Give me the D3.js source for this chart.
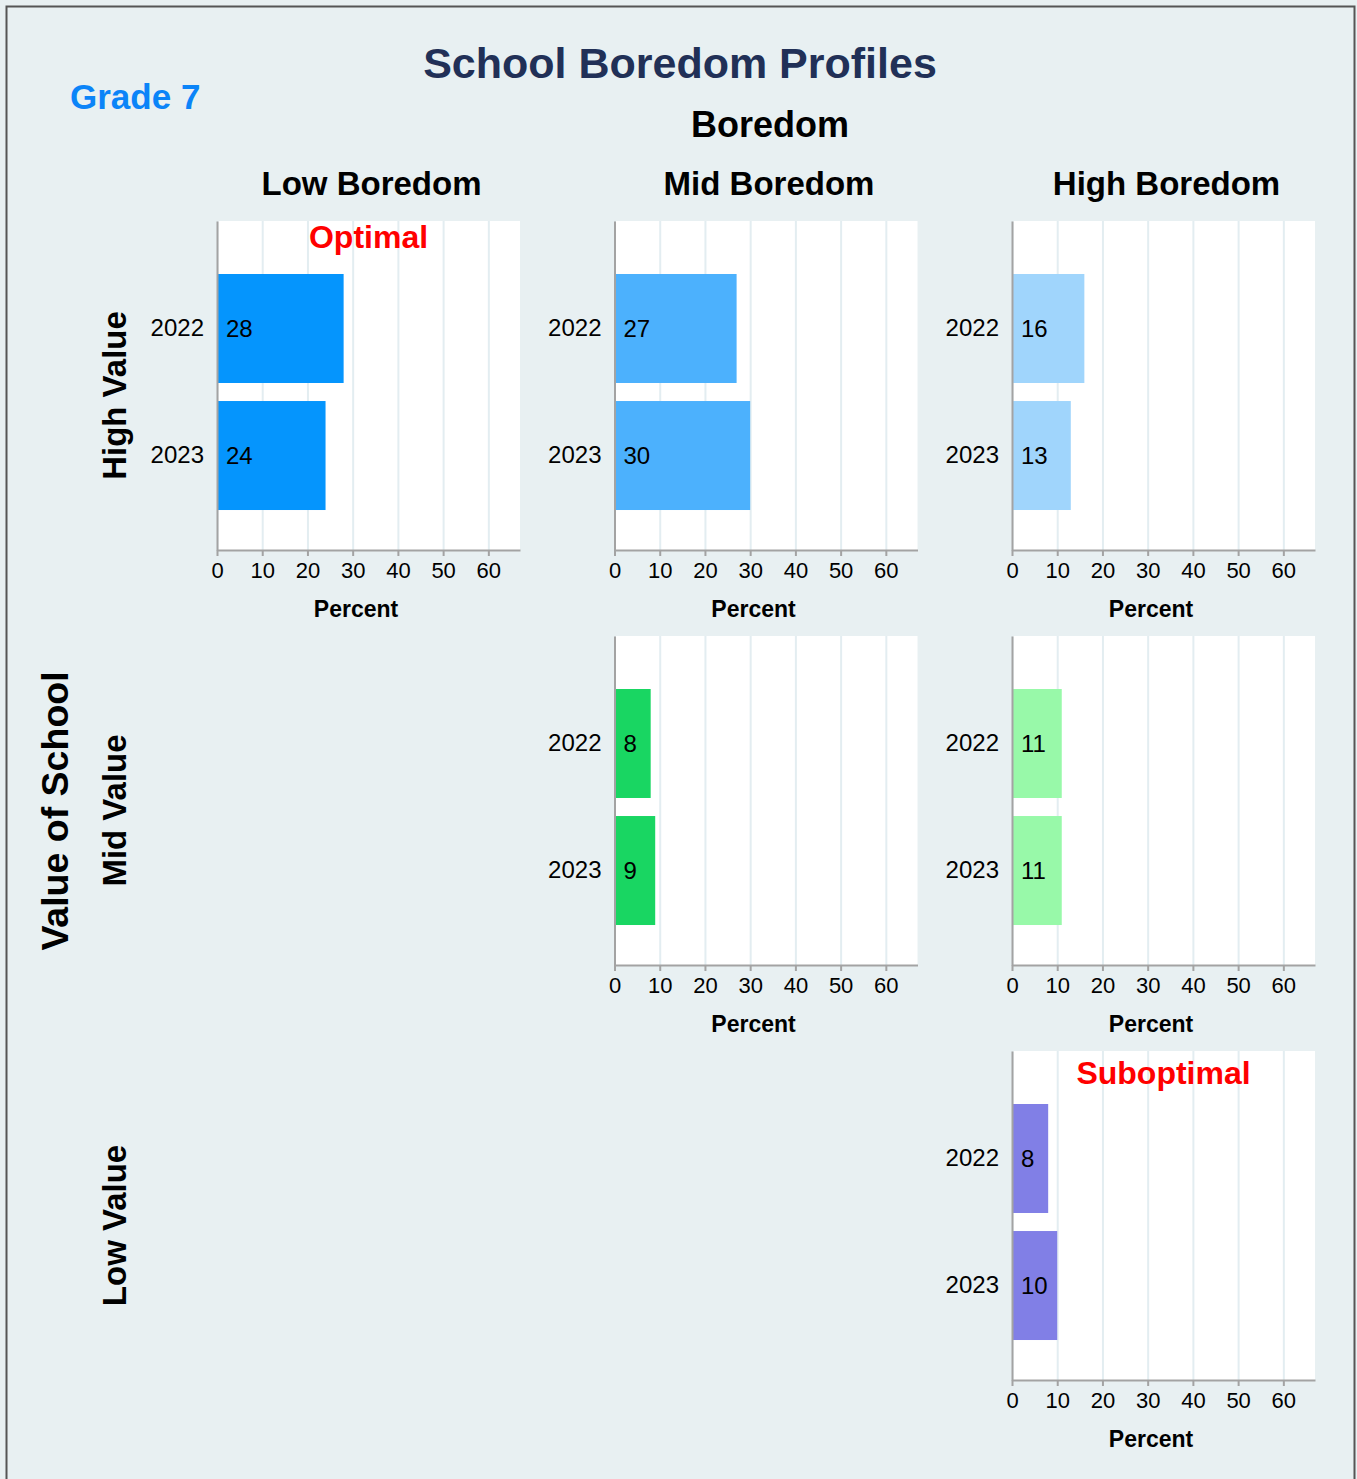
<!DOCTYPE html>
<html>
<head>
<meta charset="utf-8">
<script src="https://cdn.jsdelivr.net/npm/d3@7"></script>
<style>
  html, body { margin: 0; padding: 0; background: #e8f0f2; }
  svg { display: block; }
  text { font-family: "Liberation Sans", Arial, sans-serif; }
</style>
</head>
<body>
<svg id="chart" width="1357" height="1479"></svg>
<script>
// Survey years shown in every panel
const years = ["2022", "2023"];

// Facet levels
const boredomLevels = ["Low Boredom", "Mid Boredom", "High Boredom"];
const valueLevels = ["High Value", "Mid Value", "Low Value"];

// One entry per populated cell of the grid
const cellBoredom = ["Low Boredom", "Mid Boredom", "High Boredom", "Mid Boredom", "High Boredom", "High Boredom"];
const cellValue   = ["High Value",  "High Value",  "High Value",   "Mid Value",   "Mid Value",    "Low Value"];
const pct2022     = [28, 27, 16, 8, 11, 8];
const pct2023     = [24, 30, 13, 9, 11, 10];

// Axis ticks and domain
const xTicks = [0, 10, 20, 30, 40, 50, 60];
const xMax = 67;

// Corner annotations
const noteCells = [["High Value", "Low Boredom"], ["Low Value", "High Boredom"]];
const noteText = ["Optimal", "Suboptimal"];

// Fill per cell
const cellColor = {
  "High Value|Low Boredom": "#0595fd",
  "High Value|Mid Boredom": "#4cb1fd",
  "High Value|High Boredom": "#a0d5fc",
  "Mid Value|Mid Boredom": "#19d662",
  "Mid Value|High Boredom": "#98f9a9",
  "Low Value|High Boredom": "#817fe6"
};

const svg = d3.select("#chart");

// page frame
svg.append("rect")
  .attr("x", 6.5).attr("y", 6.5)
  .attr("width", 1348).attr("height", 1520)
  .attr("fill", "#e8f0f2")
  .attr("stroke", "#555").attr("stroke-width", 2);

// facet geometry
const panelW = 303, panelH = 329;
const colX = d3.scalePoint().domain(boredomLevels).range([217, 1012]);
const rowY = d3.scalePoint().domain(valueLevels).range([221, 1051]);

const x = d3.scaleLinear().domain([0, xMax]).range([0, panelW]);
const y = d3.scaleBand().domain(years).range([0, panelH])
  .paddingInner(0.142).paddingOuter(0.366).align(0.57);

// titles
svg.append("text")
  .attr("x", 680).attr("y", 78)
  .attr("text-anchor", "middle")
  .attr("font-size", 43).attr("font-weight", "bold")
  .attr("fill", "#213057")
  .text("School Boredom Profiles");

svg.append("text")
  .attr("x", 70).attr("y", 109)
  .attr("font-size", 35).attr("font-weight", "bold")
  .attr("fill", "#0b84f8")
  .text("Grade 7");

svg.append("text")
  .attr("x", 770).attr("y", 137)
  .attr("text-anchor", "middle")
  .attr("font-size", 36).attr("font-weight", "bold")
  .attr("fill", "#000")
  .text("Boredom");

boredomLevels.forEach(b => {
  svg.append("text")
    .attr("x", colX(b) + panelW / 2 + 3).attr("y", 195)
    .attr("text-anchor", "middle")
    .attr("font-size", 33).attr("font-weight", "bold")
    .attr("fill", "#000")
    .text(b);
});

svg.append("text")
  .attr("transform", "translate(68,811) rotate(-90)")
  .attr("text-anchor", "middle")
  .attr("font-size", 37.5).attr("font-weight", "bold")
  .attr("fill", "#000")
  .text("Value of School");

valueLevels.forEach(v => {
  svg.append("text")
    .attr("transform", `translate(126,${rowY(v) + panelH / 2 + 10}) rotate(-90)`)
    .attr("text-anchor", "middle")
    .attr("font-size", 33).attr("font-weight", "bold")
    .attr("fill", "#000")
    .text(v);
});

// panels
cellBoredom.forEach((b, i) => {
  const v = cellValue[i];
  const rows = years.map((yr, k) => ({ year: yr, pct: k === 0 ? pct2022[i] : pct2023[i] }));
  const g = svg.append("g").attr("transform", `translate(${colX(b)},${rowY(v)})`);

  g.append("rect")
    .attr("width", panelW).attr("height", panelH)
    .attr("fill", "#fff");

  // vertical grid
  g.append("g")
    .attr("transform", `translate(0,${panelH})`)
    .call(d3.axisBottom(x).tickValues(xTicks).tickSize(-panelH).tickFormat(""))
    .call(s => s.select(".domain").remove())
    .call(s => s.selectAll("line").attr("stroke", "#e3edf1").attr("stroke-width", 2));

  // bars
  g.selectAll("rect.bar")
    .data(rows)
    .join("rect")
    .attr("class", "bar")
    .attr("x", x(0))
    .attr("y", d => y(d.year))
    .attr("width", d => x(d.pct) - x(0))
    .attr("height", y.bandwidth())
    .attr("fill", cellColor[`${v}|${b}`]);

  // bar value labels
  g.selectAll("text.val")
    .data(rows)
    .join("text")
    .attr("class", "val")
    .attr("x", x(0) + 9)
    .attr("y", d => y(d.year) + y.bandwidth() / 2)
    .attr("dy", "0.35em")
    .attr("font-size", 24)
    .attr("fill", "#000")
    .text(d => d.pct);

  // x axis
  const xa = g.append("g")
    .attr("transform", `translate(0,${panelH})`)
    .call(d3.axisBottom(x).tickValues(xTicks).tickSizeInner(6).tickSizeOuter(0).tickPadding(6));
  xa.select(".domain").attr("stroke", "#a3a3a3").attr("stroke-width", 2);
  xa.selectAll(".tick line").attr("stroke", "#a3a3a3").attr("stroke-width", 2);
  xa.selectAll(".tick text")
    .attr("font-size", 22).attr("fill", "#000")
    .style("font-family", '"Liberation Sans", Arial, sans-serif');

  // y axis
  const ya = g.append("g")
    .call(d3.axisLeft(y).tickSizeInner(0).tickSizeOuter(0).tickPadding(13));
  ya.select(".domain").attr("stroke", "#a3a3a3").attr("stroke-width", 2);
  ya.selectAll(".tick text")
    .attr("font-size", 24).attr("fill", "#000")
    .style("font-family", '"Liberation Sans", Arial, sans-serif');

  g.append("text")
    .attr("x", 139).attr("y", panelH + 67)
    .attr("text-anchor", "middle")
    .attr("font-size", 23).attr("font-weight", "bold")
    .attr("fill", "#000")
    .text("Percent");
});

// annotations
noteCells.forEach(([v, b], i) => {
  svg.append("text")
    .attr("x", colX(b) + panelW / 2)
    .attr("y", rowY(v) + (i === 0 ? 27 : 33))
    .attr("text-anchor", "middle")
    .attr("font-size", 32).attr("font-weight", "bold")
    .attr("fill", "#ff0000")
    .text(noteText[i]);
});
</script>
</body>
</html>
